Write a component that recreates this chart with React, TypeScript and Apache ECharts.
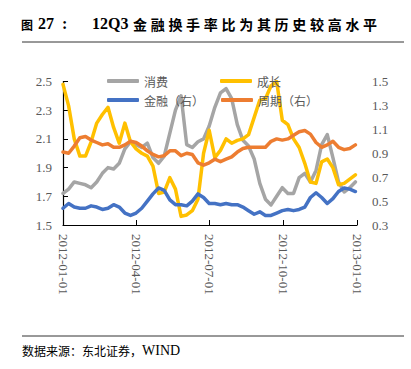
import React, { useEffect, useRef } from "react";
import * as echarts from "echarts";

const seriesNames = ["消费", "成长", "金融（右）", "周期（右）"];
const quarterLabels = ["2012-01-01", "2012-04-01", "2012-07-01", "2012-10-01", "2013-01-01"];
const leftTicks = { min: 1.5, max: 2.5, step: 0.2 };
const rightTicks = { min: 0.3, max: 1.5, step: 0.2 };
const titleCJK = "金融换手率比为其历史较高水平";

// weekly samples starting 2012-01-01
const consumption = [
  1.72, 1.75, 1.80, 1.79, 1.78, 1.76, 1.80, 1.86, 1.90, 1.89,
  1.93, 2.03, 2.08, 2.06, 2.04, 2.07, 1.97, 1.93, 1.98, 2.14,
  2.30, 2.40, 2.06, 2.04, 2.08, 2.10, 2.19, 2.32, 2.42, 2.45,
  2.38, 2.20, 2.09, 2.05, 1.96, 1.79, 1.68, 1.64, 1.70, 1.76,
  1.72, 1.72, 1.83, 1.86, 1.80, 1.88, 2.06, 2.13, 1.97, 1.80,
  1.73, 1.76, 1.80,
];
const growth = [
  2.48, 2.33, 2.10, 1.98, 1.98, 2.08, 2.21, 2.27, 2.32, 2.18,
  2.07, 2.21, 2.08, 2.03, 2.00, 1.98, 1.91, 1.72, 1.73, 1.83,
  1.75, 1.56, 1.57, 1.60, 1.68, 2.00, 2.16, 1.97, 2.02, 2.10,
  2.07, 2.09, 2.10, 2.13, 2.25, 2.37, 2.38, 2.47, 2.50, 2.23,
  2.20, 2.10, 2.04, 1.93, 1.80, 1.79, 1.94, 1.96, 1.90, 1.78,
  1.79, 1.82, 1.85,
];
const finance = [
  0.44, 0.48, 0.45, 0.44, 0.44, 0.46, 0.45, 0.43, 0.44, 0.47,
  0.45, 0.40, 0.38, 0.40, 0.44, 0.50, 0.56, 0.61, 0.59, 0.51,
  0.47, 0.47, 0.46, 0.50, 0.56, 0.53, 0.48, 0.48, 0.47, 0.48,
  0.47, 0.47, 0.45, 0.42, 0.39, 0.41, 0.38, 0.38, 0.40, 0.42,
  0.43, 0.42, 0.43, 0.45, 0.53, 0.57, 0.53, 0.48, 0.52, 0.58,
  0.61, 0.60, 0.58,
];
const cycle = [
  0.91, 0.90, 0.96, 1.03, 1.04, 1.01, 0.99, 0.97, 0.98, 0.95,
  0.95, 0.97, 1.00, 0.99, 0.96, 0.92, 0.89, 0.87, 0.88, 0.92,
  0.92, 0.88, 0.90, 0.89, 0.82, 0.80, 0.82, 0.85, 0.83, 0.85,
  0.87, 0.91, 0.94, 0.95, 0.95, 0.95, 0.95, 1.00, 1.02, 1.01,
  1.02, 1.05, 1.08, 1.09, 1.06, 0.99, 0.95, 0.97, 1.00, 0.95,
  0.93, 0.94, 0.97,
];
const colors = ["#A5A5A5", "#FFC000", "#4472C4", "#ED7D31"];

const pad = (n: number) => (n < 10 ? "0" + n : "" + n);
const dayCategories: string[] = [];
for (let t = Date.UTC(2012, 0, 1); t <= Date.UTC(2013, 0, 1); t += 86400000) {
  const d = new Date(t);
  dayCategories.push(`${d.getUTCFullYear()}-${pad(d.getUTCMonth() + 1)}-${pad(d.getUTCDate())}`);
}
const weekly = (vals: number[]) => vals.map((v, k) => [dayCategories[k * 7], v]);

const SERIF = "'Liberation Serif', 'Noto Sans CJK SC', serif";
const CJK = "'Noto Sans CJK SC', sans-serif";

export default function App() {
  const ref = useRef<HTMLDivElement>(null);
  useEffect(() => {
    if (!ref.current) return;
    const chart = echarts.init(ref.current, null, { renderer: "svg" });
    const isQuarter = (_i: number, v: string) => quarterLabels.indexOf(v) >= 0;
    const legendCommon = {
      itemWidth: 32,
      itemHeight: 4,
      icon: "roundRect",
      textStyle: { color: "#595959", fontSize: 12, fontFamily: CJK },
      selectedMode: false,
    };
    const titleChars = titleCJK.split("").map((ch, i) => ({
      type: "text",
      left: 133 + i * 17.7,
      top: 17,
      style: { text: ch, font: `bold 14px ${CJK}`, fill: "#000" },
    }));
    chart.setOption({
      animation: false,
      backgroundColor: "#ffffff",
      color: colors,
      grid: { left: 63, right: 54, top: 81.5, bottom: 144, containLabel: false },
      legend: [
        { ...legendCommon, data: [seriesNames[0], seriesNames[1]], left: 102, top: 70, itemGap: 52 },
        { ...legendCommon, data: [seriesNames[2], seriesNames[3]], left: 102, top: 89, itemGap: 17 },
      ],
      xAxis: {
        type: "category",
        data: dayCategories,
        boundaryGap: false,
        axisLine: { lineStyle: { color: "#000", width: 1.2 } },
        axisTick: { inside: true, length: 5, interval: isQuarter, lineStyle: { color: "#000" } },
        axisLabel: {
          interval: isQuarter,
          rotate: -90,
          color: "#595959",
          fontSize: 13,
          fontFamily: SERIF,
          margin: 9,
        },
        splitLine: { show: false },
      },
      yAxis: [
        {
          type: "value",
          min: leftTicks.min,
          max: leftTicks.max,
          interval: leftTicks.step,
          axisLine: { show: true, lineStyle: { color: "#000", width: 1.2 } },
          axisTick: { show: true, inside: true, length: 5, lineStyle: { color: "#000" } },
          axisLabel: { color: "#595959", fontSize: 13, fontFamily: SERIF, margin: 11, formatter: (v: number) => v.toFixed(1) },
          splitLine: { show: false },
        },
        {
          type: "value",
          min: rightTicks.min,
          max: rightTicks.max,
          interval: rightTicks.step,
          axisLine: { show: false },
          axisTick: { show: false },
          axisLabel: { color: "#595959", fontSize: 13, fontFamily: SERIF, margin: 15, formatter: (v: number) => v.toFixed(1) },
          splitLine: { show: false },
        },
      ],
      series: [
        { name: seriesNames[0], type: "line", yAxisIndex: 0, data: weekly(consumption) },
        { name: seriesNames[1], type: "line", yAxisIndex: 0, data: weekly(growth) },
        { name: seriesNames[2], type: "line", yAxisIndex: 1, data: weekly(finance) },
        { name: seriesNames[3], type: "line", yAxisIndex: 1, data: weekly(cycle) },
      ].map((s, i) => ({
        ...s,
        showSymbol: false,
        symbol: "none",
        lineStyle: { width: 3.5, color: colors[i], cap: "round", join: "round" },
        itemStyle: { color: colors[i] },
      })),
      graphic: [
        { type: "text", left: 21, top: 18, style: { text: "图", font: `bold 12px ${CJK}`, fill: "#000" } },
        { type: "text", left: 38, top: 15, style: { text: "27", font: `bold 16px ${SERIF}`, fill: "#000" } },
        { type: "text", left: 62, top: 15, style: { text: ":", font: `bold 16px ${SERIF}`, fill: "#000" } },
        { type: "text", left: 92, top: 15, style: { text: "12Q3", font: `bold 16px ${SERIF}`, fill: "#000" } },
        ...titleChars,
        { type: "line", shape: { x1: 22, y1: 42, x2: 404, y2: 42 }, style: { stroke: "#333", lineWidth: 1 } },
        { type: "line", shape: { x1: 22, y1: 336, x2: 404, y2: 336 }, style: { stroke: "#333", lineWidth: 1 } },
        {
          type: "text",
          left: 22,
          top: 343,
          style: {
            text: "{a|数据来源：东北证券，}{b|WIND}",
            rich: {
              a: { fontSize: 12, fontFamily: CJK, fill: "#000", color: "#000" },
              b: { fontSize: 14, fontFamily: SERIF, fill: "#000", color: "#000" },
            },
          },
        },
      ],
    });
    return () => chart.dispose();
  }, []);
  return <div ref={ref} style={{ position: "fixed", left: 0, top: 0, width: 411, height: 369 }} />;
}
